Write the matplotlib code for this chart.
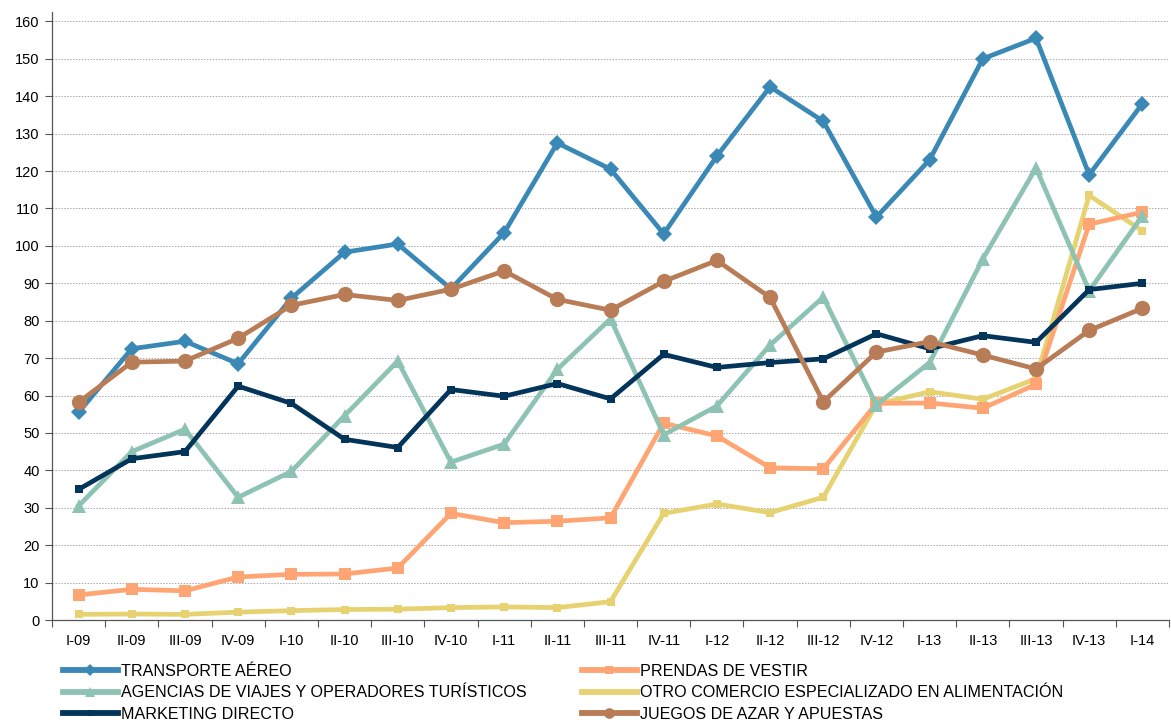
import matplotlib
matplotlib.use("Agg")
import matplotlib.pyplot as plt
from matplotlib.lines import Line2D
import numpy as np

quarters = ["I-09", "II-09", "III-09", "IV-09", "I-10", "II-10", "III-10", "IV-10",
            "I-11", "II-11", "III-11", "IV-11", "I-12", "II-12", "III-12", "IV-12",
            "I-13", "II-13", "III-13", "IV-13", "I-14"]

transporte = [55.5, 72.5, 74.5, 68.5, 86.0, 98.3, 100.5, 88.5, 103.5, 127.5, 120.5,
              103.2, 124.0, 142.5, 133.3, 107.7, 123.0, 150.0, 155.5, 119.0, 138.0]
prendas = [6.7, 8.2, 7.8, 11.5, 12.2, 12.3, 13.9, 28.5, 26.0, 26.4, 27.3,
           52.6, 49.2, 40.7, 40.4, 57.9, 58.0, 56.6, 63.0, 105.8, 109.0]
agencias = [30.5, 45.0, 51.0, 32.8, 39.7, 54.6, 69.2, 42.2, 47.0, 67.0, 80.5,
            49.5, 57.2, 73.5, 86.3, 57.5, 68.8, 96.5, 120.8, 88.0, 108.0]
otro = [1.5, 1.6, 1.5, 2.1, 2.5, 2.8, 2.9, 3.3, 3.5, 3.3, 4.9,
        28.5, 31.0, 28.7, 32.8, 57.7, 61.0, 59.0, 64.5, 113.5, 104.0]
marketing = [34.9, 43.1, 45.0, 62.5, 57.9, 48.3, 46.1, 61.6, 59.8, 63.2, 59.1,
             71.0, 67.5, 68.8, 69.8, 76.5, 72.5, 76.0, 74.2, 88.3, 90.0]
juegos = [58.2, 68.9, 69.2, 75.3, 84.1, 87.0, 85.4, 88.4, 93.3, 85.7, 82.8,
          90.5, 96.1, 86.2, 58.3, 71.6, 74.4, 70.8, 67.1, 77.4, 83.3]

names = ["TRANSPORTE AÉREO", "PRENDAS DE VESTIR",
         "AGENCIAS DE VIAJES Y OPERADORES TURÍSTICOS",
         "OTRO COMERCIO ESPECIALIZADO EN ALIMENTACIÓN",
         "MARKETING DIRECTO", "JUEGOS DE AZAR Y APUESTAS"]

fig = plt.figure(figsize=(11.71, 7.22), dpi=100)
ax = fig.add_axes([52 / 1171, (722 - 620) / 722, (1169 - 52) / 1171, (620 - 12) / 722])

x = np.arange(len(quarters))
lw = 3.4
styles = {
    "transporte": dict(color="#3A88B5", marker="D", ms=8.5, mew=0),
    "prendas": dict(color="#FFA574", marker="s", ms=9, mew=0),
    "agencias": dict(color="#8EC3B3", marker="^", ms=10, mew=0),
    "otro": dict(color="#E6D270", marker="s", ms=5.5, mew=0),
    "marketing": dict(color="#03355A", marker="s", ms=5.5, mew=0),
    "juegos": dict(color="#B87C56", marker="o", ms=11, mew=0),
}

h = {}
h["otro"], = ax.plot(x, otro, lw=lw, **styles["otro"], zorder=3)
h["prendas"], = ax.plot(x, prendas, lw=lw, **styles["prendas"], zorder=4)
h["agencias"], = ax.plot(x, agencias, lw=lw, **styles["agencias"], zorder=5)
h["marketing"], = ax.plot(x, marketing, lw=lw, **styles["marketing"], zorder=6)
h["transporte"], = ax.plot(x, transporte, lw=lw, **styles["transporte"], zorder=7)
h["juegos"], = ax.plot(x, juegos, lw=lw, **styles["juegos"], zorder=8)

ax.set_xlim(-0.5, len(quarters) - 0.5)
ax.set_ylim(0, 162.5)
ax.set_yticks(np.arange(0, 161, 10))
ax.set_xticks(x)
ax.set_xticklabels(quarters)
ax.set_xticks(np.arange(-0.5, len(quarters), 1), minor=True)
ax.tick_params(axis="x", which="major", length=0, pad=10, labelsize=10.5)
ax.tick_params(axis="x", which="minor", length=5, width=0.8, color="#555555")
ax.tick_params(axis="y", length=5, width=0.8, color="#555555", labelsize=10.5, pad=4)
for lab in ax.get_xticklabels() + ax.get_yticklabels():
    lab.set_family(["Liberation Sans", "DejaVu Sans"])

ax.grid(axis="y", color="#AAAAAA", linestyle=(0, (1.5, 1.5)), linewidth=0.7)
ax.set_axisbelow(True)
for s in ["top", "right"]:
    ax.spines[s].set_visible(False)
ax.spines["left"].set_color("#555555")
ax.spines["bottom"].set_color("#555555")
ax.spines["left"].set_linewidth(0.9)
ax.spines["bottom"].set_linewidth(0.9)

legfont = dict(family=["Liberation Sans", "DejaVu Sans"], size=11.6)

def mk(key):
    st = dict(styles[key])
    st["ms"] = st["ms"] * 0.7
    return Line2D([], [], lw=4.2, **st)

col1 = [("transporte", names[0]), ("agencias", names[2]), ("marketing", names[4])]
col2 = [("prendas", names[1]), ("otro", names[3]), ("juegos", names[5])]

for col, xpos in [(col1, 63 / 1171), (col2, 582 / 1171)]:
    fig.legend([mk(k) for k, _ in col], [n for _, n in col],
               loc="upper left", bbox_to_anchor=(xpos, (722 - 664) / 722),
               frameon=False, prop=legfont, handlelength=3.4,
               handletextpad=0.2, labelspacing=0.4, borderaxespad=0,
               borderpad=0)

fig.savefig("out.png", dpi=100)
